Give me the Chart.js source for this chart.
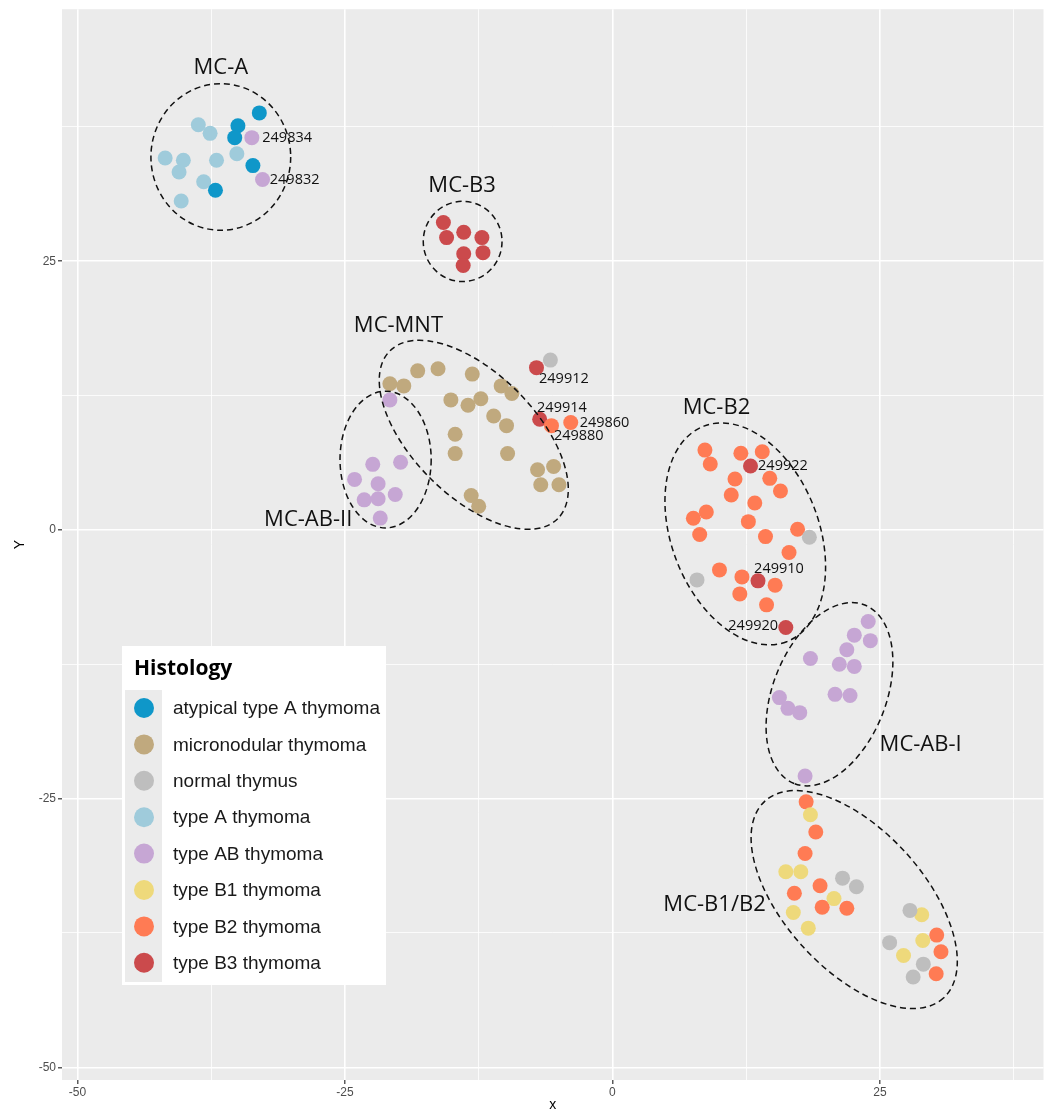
<!DOCTYPE html>
<html>
<head>
<meta charset="utf-8">
<script src="https://cdn.jsdelivr.net/npm/chart.js@4.4.0/dist/chart.umd.min.js"></script>
<style>
  html, body { margin: 0; padding: 0; background: #ffffff; }
  #wrap { width: 1051px; height: 1112px; position: relative; }
</style>
</head>
<body>
<div id="wrap"><canvas id="tsnePlot"></canvas></div>
<script>
// Histology groups, in legend order
const histologyLabels = [
    "atypical type A thymoma",
    "micronodular thymoma",
    "normal thymus",
    "type A thymoma",
    "type AB thymoma",
    "type B1 thymoma",
    "type B2 thymoma",
    "type B3 thymoma"
];
const histologyColors = ["#0F97C9", "#C0A97E", "#BEBEBE", "#9FCBDB", "#C6A6D4", "#EED97B", "#FF7B54", "#CB4A4C"];

// sample coordinates
const atypicalAX = [-33.0, -35.0, -35.3, -33.6, -37.1];
const atypicalAY = [38.8, 37.6, 36.5, 33.9, 31.6];

const micronodularX = [-20.8, -19.5, -18.2, -16.3, -13.1, -10.4, -9.4, -15.1, -13.5, -12.3, -11.1, -9.9, -14.7, -14.7, -9.8, -7.0, -5.5, -6.7, -5.0, -13.2, -12.5];
const micronodularY = [13.6, 13.4, 14.8, 15.0, 14.5, 13.4, 12.7, 12.1, 11.6, 12.2, 10.6, 9.7, 8.9, 7.1, 7.1, 5.6, 5.9, 4.2, 4.2, 3.2, 2.2];

const normalX = [-5.8, 18.4, 7.9, 21.5, 22.8, 27.8, 25.9, 29.05, 28.1];
const normalY = [15.8, -0.68, -4.65, -32.4, -33.2, -35.4, -38.4, -40.4, -41.6];

const typeAX = [-38.7, -37.6, -41.8, -40.1, -40.5, -37.0, -35.1, -38.2, -40.3];
const typeAY = [37.7, 36.9, 34.6, 34.4, 33.3, 34.4, 35.0, 32.4, 30.6];

const typeABX = [-33.7, -32.7, -20.8, -22.4, -19.8, -24.1, -21.9, -23.2, -21.9, -20.3, -21.7,
    23.9, 22.6, 24.1, 21.9, 18.5, 21.2, 22.6, 20.8, 22.2, 15.6, 16.4, 17.5, 18.0];
const typeABY = [36.5, 32.6, 12.1, 6.1, 6.3, 4.7, 4.3, 2.8, 2.9, 3.3, 1.1,
    -8.52, -9.79, -10.3, -11.15, -11.96, -12.5, -12.7, -15.3, -15.4, -15.6, -16.6, -17.0, -22.9];

const typeB1X = [18.5, 16.2, 17.6, 20.7, 16.9, 18.3, 28.9, 29.0, 27.2];
const typeB1Y = [-26.5, -31.8, -31.8, -34.3, -35.6, -37.05, -35.8, -38.2, -39.6];

const typeB2X = [-5.7, -3.9, 8.64, 9.14, 12.0, 14.0, 11.45, 14.7, 15.7, 11.1, 13.3, 8.77, 7.56, 12.7, 8.15, 14.3, 17.3, 16.5,
    10.0, 12.1, 15.2, 11.9, 14.4, 18.1, 19.0, 18.0, 19.4, 17.0, 19.6, 21.9, 30.3, 30.7, 30.25];
const typeB2Y = [9.7, 10.0, 7.43, 6.13, 7.13, 7.28, 4.74, 4.8, 3.62, 3.25, 2.5, 1.67, 1.08, 0.77, -0.43, -0.62, 0.06, -2.1,
    -3.72, -4.37, -5.14, -5.95, -6.97, -25.3, -28.1, -30.1, -33.1, -33.8, -35.1, -35.2, -37.7, -39.25, -41.3];

const typeB3X = [-15.8, -15.5, -13.9, -12.2, -13.9, -12.1, -13.95, -7.1, -6.8, 12.9, 13.6, 16.2];
const typeB3Y = [28.6, 27.2, 27.7, 27.2, 25.7, 25.8, 24.6, 15.1, 10.3, 5.95, -4.74, -9.08];

const xMajorTicks = [-50, -25, 0, 25];
const xMinorTicks = [-37.5, -12.5, 12.5, 37.5];
const yMajorTicks = [-50, -25, 0, 25];
const yMinorTicks = [-37.5, -12.5, 12.5, 37.5];

// cluster outlines (data units) and their names
const clusters = [
    { name: "MC-A", cx: -36.6, cy: 34.7, a: 6.53, b: 6.85, rot: 0, lx: -36.6, ly: 43.0 },
    { name: "MC-B3", cx: -14.0, cy: 26.84, a: 3.68, b: 3.75, rot: 0, lx: -14.05, ly: 32.06 },
    { name: "MC-MNT", cx: -12.96, cy: 8.85, a: 11.09, b: 5.75, rot: 45, lx: -20.0, ly: 18.96 },
    { name: "MC-AB-II", cx: -21.2, cy: 6.55, a: 4.26, b: 6.39, rot: 0, lx: -28.43, ly: 0.93 },
    { name: "MC-B2", cx: 12.41, cy: -0.37, a: 10.79, b: 6.89, rot: 69, lx: 9.72, ly: 11.34 },
    { name: "MC-AB-I", cx: 20.28, cy: -15.29, a: 8.97, b: 5.29, rot: 111.6, lx: 28.8, ly: -19.98 },
    { name: "MC-B1/B2", cx: 22.59, cy: -34.39, a: 12.42, b: 6.51, rot: 47.8, lx: 9.54, ly: -34.85 }
];

const sampleTags = [
    { text: "249834", x: -30.4, y: 36.52 },
    { text: "249832", x: -29.7, y: 32.53 },
    { text: "249912", x: -4.54, y: 14.03 },
    { text: "249914", x: -4.72, y: 11.34 },
    { text: "249860", x: -0.74, y: 9.94 },
    { text: "249880", x: -3.15, y: 8.74 },
    { text: "249922", x: 15.93, y: 5.95 },
    { text: "249910", x: 15.56, y: -3.62 },
    { text: "249920", x: 13.15, y: -8.92 }
];

const seriesX = [atypicalAX, micronodularX, normalX, typeAX, typeABX, typeB1X, typeB2X, typeB3X];
const seriesY = [atypicalAY, micronodularY, normalY, typeAY, typeABY, typeB1Y, typeB2Y, typeB3Y];

const datasets = histologyLabels.map((label, i) => ({
    label: label,
    data: seriesX[i].map((x, j) => ({ x: x, y: seriesY[i][j] })),
    backgroundColor: histologyColors[i],
    borderWidth: 0,
    pointRadius: 7.5,
    pointHoverRadius: 7.5
}));

const panelBg = {
    id: "panelBg",
    beforeDraw(chart) {
        const { ctx, chartArea: a } = chart;
        ctx.save();
        ctx.fillStyle = "#EBEBEB";
        ctx.fillRect(a.left, a.top, a.width, a.height);
        ctx.restore();
    }
};

const clusterMarks = {
    id: "clusterMarks",
    afterDatasetsDraw(chart) {
        const { ctx, scales: { x, y } } = chart;
        const unit = x.getPixelForValue(1) - x.getPixelForValue(0);
        ctx.save();
        ctx.strokeStyle = "#111111";
        ctx.lineWidth = 1.5;
        ctx.setLineDash([6, 4]);
        clusters.forEach((c) => {
            ctx.beginPath();
            ctx.ellipse(x.getPixelForValue(c.cx), y.getPixelForValue(c.cy), c.a * unit, c.b * unit, c.rot * Math.PI / 180, 0, Math.PI * 2);
            ctx.stroke();
        });
        ctx.setLineDash([]);
        ctx.fillStyle = "#111111";
        ctx.textAlign = "center";
        ctx.textBaseline = "middle";
        ctx.font = "22px 'Open Sans'";
        clusters.forEach((c) => {
            ctx.fillText(c.name, x.getPixelForValue(c.lx), y.getPixelForValue(c.ly));
        });
        ctx.font = "14.5px 'Open Sans'";
        sampleTags.forEach((t) => {
            ctx.fillText(t.text, x.getPixelForValue(t.x), y.getPixelForValue(t.y));
        });
        ctx.restore();
    }
};

const insetLegend = {
    id: "insetLegend",
    afterDraw(chart) {
        const { ctx, chartArea: a } = chart;
        const left = a.left + 60;
        const top = 646;
        ctx.save();
        ctx.fillStyle = "#FFFFFF";
        ctx.fillRect(left, top, 264, 339);
        ctx.fillStyle = "#EBEBEB";
        ctx.fillRect(left + 3, top + 44, 37, 292);
        ctx.fillStyle = "#000000";
        ctx.font = "bold 21px 'Open Sans'";
        ctx.textBaseline = "alphabetic";
        ctx.textAlign = "left";
        ctx.fillText("Histology", left + 12, top + 29);
        ctx.font = "19px 'Liberation Sans', Arial";
        ctx.textBaseline = "middle";
        chart.data.datasets.forEach((ds, i) => {
            const cy = top + 62 + i * 36.4;
            ctx.fillStyle = ds.backgroundColor;
            ctx.beginPath();
            ctx.arc(left + 22, cy, 10, 0, Math.PI * 2);
            ctx.fill();
            ctx.fillStyle = "#1A1A1A";
            ctx.fillText(ds.label, left + 51, cy + 1);
        });
        ctx.restore();
    }
};

const isMajor = (list, v) => list.includes(v);

new Chart(document.getElementById("tsnePlot"), {
    type: "scatter",
    data: { datasets: datasets },
    options: {
        responsive: true,
        maintainAspectRatio: false,
        animation: false,
        layout: { padding: { left: 0, right: 3, top: 8, bottom: 0 } },
        plugins: {
            legend: { display: false },
            tooltip: { enabled: true }
        },
        scales: {
            x: {
                type: "linear",
                min: -51.44,
                max: 40.28,
                afterBuildTicks: (scale) => {
                    scale.ticks = xMajorTicks.concat(xMinorTicks).sort((p, q) => p - q).map((v) => ({ value: v }));
                },
                afterFit: (scale) => { scale.height = 32; },
                ticks: {
                    color: "#4D4D4D",
                    font: { family: "'Liberation Sans', Arial", size: 12 },
                    padding: 1,
                    maxRotation: 0,
                    autoSkip: false,
                    callback: (v) => isMajor(xMajorTicks, v) ? String(v) : ""
                },
                grid: {
                    color: "#FFFFFF",
                    lineWidth: (c) => (c.tick && isMajor(xMajorTicks, c.tick.value)) ? 1.6 : 0.8,
                    tickColor: (c) => (c.tick && isMajor(xMajorTicks, c.tick.value)) ? "#333333" : "rgba(0,0,0,0)",
                    tickLength: 4,
                    tickWidth: 1.2
                },
                border: { display: false },
                title: {
                    display: true,
                    text: "x",
                    color: "#000000",
                    font: { family: "'Liberation Sans', Arial", size: 14, lineHeight: 1 },
                    padding: { top: 0, bottom: 0 }
                }
            },
            y: {
                type: "linear",
                min: -51.18,
                max: 48.45,
                afterBuildTicks: (scale) => {
                    scale.ticks = yMajorTicks.concat(yMinorTicks).sort((p, q) => p - q).map((v) => ({ value: v }));
                },
                afterFit: (scale) => { scale.width = 62; },
                ticks: {
                    color: "#4D4D4D",
                    font: { family: "'Liberation Sans', Arial", size: 12 },
                    padding: 2,
                    autoSkip: false,
                    callback: (v) => isMajor(yMajorTicks, v) ? String(v) : ""
                },
                grid: {
                    color: "#FFFFFF",
                    lineWidth: (c) => (c.tick && isMajor(yMajorTicks, c.tick.value)) ? 1.6 : 0.8,
                    tickColor: (c) => (c.tick && isMajor(yMajorTicks, c.tick.value)) ? "#333333" : "rgba(0,0,0,0)",
                    tickLength: 4,
                    tickWidth: 1.2
                },
                border: { display: false },
                title: {
                    display: true,
                    text: "Y",
                    color: "#000000",
                    font: { family: "'Liberation Sans', Arial", size: 14, lineHeight: 1 },
                    padding: { top: 13, bottom: 0 }
                }
            }
        }
    },
    plugins: [panelBg, clusterMarks, insetLegend]
});
</script>
</body>
</html>
